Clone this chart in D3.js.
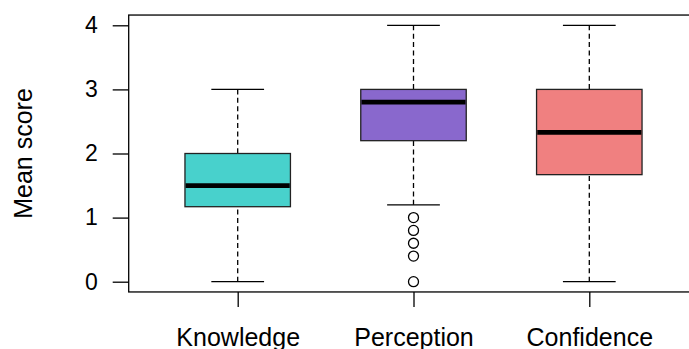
<!DOCTYPE html>
<html>
<head>
<meta charset="utf-8">
<script src="https://cdn.jsdelivr.net/npm/d3@7"></script>
<style>
  html, body { margin: 0; padding: 0; background: #fff; }
  svg { display: block; font-family: "Liberation Sans", Arial, sans-serif; }
</style>
</head>
<body>
<svg id="chart" width="689" height="349"></svg>
<script>
// ---- data ----
const categories = ["Knowledge", "Perception", "Confidence"];
const whiskerLow = [0, 1.2, 0];
const q1 = [1.17, 2.2, 1.67];
const medians = [1.5, 2.8, 2.33];
const q3 = [2, 3, 3];
const whiskerHigh = [3, 4, 4];
const outliers = [[], [1.0, 0.8, 0.6, 0.4, 0], []];
const fills = ["#48D1CC", "#8968CD", "#F08080"];
const yTicks = [0, 1, 2, 3, 4];
const yLabel = "Mean score";

// ---- scales ----
const svg = d3.select("#chart");
const x = d3.scaleLinear().domain([1, 3]).range([237.7, 589.3]);
const y = d3.scaleLinear().domain([0, 4]).range([281.7, 25.3]);
const xMin = 0.38, xMax = 3.62, yMin = -0.16, yMax = 4.16;
const boxW = 0.6, capW = 0.3;
const lw = 1.3;

const g = svg.append("g");
const idx = d3.range(categories.length);

// whiskers (dashed)
g.selectAll(".wl").data(idx).join("line")
  .attr("x1", i => x(i + 1)).attr("x2", i => x(i + 1))
  .attr("y1", i => y(whiskerLow[i])).attr("y2", i => y(q1[i]))
  .attr("stroke", "#000").attr("stroke-width", lw).attr("stroke-dasharray", "5,3.4");
g.selectAll(".wh").data(idx).join("line")
  .attr("x1", i => x(i + 1)).attr("x2", i => x(i + 1))
  .attr("y1", i => y(whiskerHigh[i])).attr("y2", i => y(q3[i]))
  .attr("stroke", "#000").attr("stroke-width", lw).attr("stroke-dasharray", "5,3.4");
// staples
g.selectAll(".sl").data(idx).join("line")
  .attr("x1", i => x(i + 1 - capW / 2)).attr("x2", i => x(i + 1 + capW / 2))
  .attr("y1", i => y(whiskerLow[i])).attr("y2", i => y(whiskerLow[i]))
  .attr("stroke", "#000").attr("stroke-width", lw);
g.selectAll(".sh").data(idx).join("line")
  .attr("x1", i => x(i + 1 - capW / 2)).attr("x2", i => x(i + 1 + capW / 2))
  .attr("y1", i => y(whiskerHigh[i])).attr("y2", i => y(whiskerHigh[i]))
  .attr("stroke", "#000").attr("stroke-width", lw);
// boxes
g.selectAll(".box").data(idx).join("rect")
  .attr("x", i => x(i + 1 - boxW / 2))
  .attr("width", i => x(i + 1 + boxW / 2) - x(i + 1 - boxW / 2))
  .attr("y", i => y(q3[i]))
  .attr("height", i => y(q1[i]) - y(q3[i]))
  .attr("fill", i => fills[i]).attr("stroke", "#222").attr("stroke-width", lw);
// medians
g.selectAll(".med").data(idx).join("line")
  .attr("x1", i => x(i + 1 - boxW / 2) + 0.7).attr("x2", i => x(i + 1 + boxW / 2) - 0.7)
  .attr("y1", i => y(medians[i])).attr("y2", i => y(medians[i]))
  .attr("stroke", "#000").attr("stroke-width", 4.8);
// outliers
const outPts = idx.flatMap(i => outliers[i].map(v => ({ i, v })));
g.selectAll(".out").data(outPts).join("circle")
  .attr("cx", d => x(d.i + 1)).attr("cy", d => y(d.v)).attr("r", 5)
  .attr("fill", "none").attr("stroke", "#000").attr("stroke-width", lw);

// plot frame
svg.append("rect")
  .attr("x", x(xMin)).attr("y", y(yMax))
  .attr("width", x(xMax) - x(xMin)).attr("height", y(yMin) - y(yMax))
  .attr("fill", "none").attr("stroke", "#000").attr("stroke-width", lw);

// y axis
const yAxis = svg.append("g").attr("transform", `translate(${x(xMin)},0)`)
  .call(d3.axisLeft(y).tickValues(yTicks).tickSize(16).tickPadding(15).tickFormat(d3.format("d")));
yAxis.select(".domain").remove();
yAxis.selectAll("line").attr("stroke", "#000").attr("stroke-width", lw);
yAxis.selectAll("text").attr("font-size", 23).attr("fill", "#000")
  .attr("font-family", "Liberation Sans, Arial, sans-serif");

// x axis
const xAxis = svg.append("g").attr("transform", `translate(0,${y(yMin)})`)
  .call(d3.axisBottom(x).tickValues([1, 2, 3]).tickSize(15).tickPadding(21)
    .tickFormat(d => categories[d - 1]));
xAxis.select(".domain").remove();
xAxis.selectAll("line").attr("stroke", "#000").attr("stroke-width", lw);
xAxis.selectAll("text").attr("font-size", 25).attr("fill", "#000")
  .attr("font-family", "Liberation Sans, Arial, sans-serif");

// y label
svg.append("text")
  .attr("transform", `translate(32,${(y(yMin) + y(yMax)) / 2}) rotate(-90)`)
  .attr("text-anchor", "middle")
  .attr("font-size", 25).attr("fill", "#000")
  .text(yLabel);
</script>
</body>
</html>
